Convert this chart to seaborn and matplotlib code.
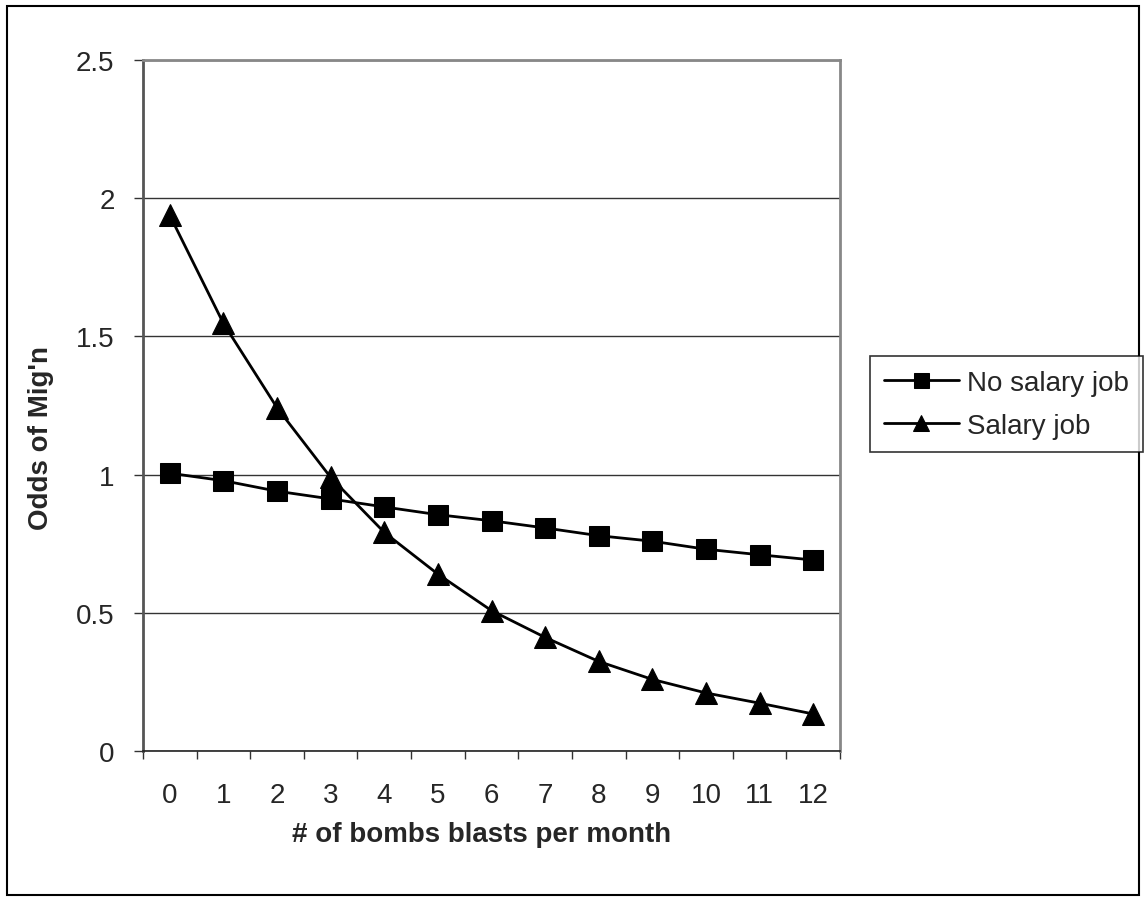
import numpy as np
import pandas as pd
import matplotlib
matplotlib.use("Agg")
import matplotlib.pyplot as plt
import seaborn as sns
from matplotlib.ticker import FuncFormatter, FixedLocator
from matplotlib.patches import Rectangle

# data
blasts = [0, 1, 2, 3, 4, 5, 6, 7, 8, 9, 10, 11, 12]
no_salary = [1.005, 0.978, 0.940, 0.912, 0.883, 0.855, 0.833, 0.807, 0.779, 0.759, 0.730, 0.710, 0.691]
salary = [1.938, 1.547, 1.242, 0.990, 0.791, 0.640, 0.508, 0.411, 0.324, 0.259, 0.210, 0.173, 0.134]
yticks = [0, 0.5, 1, 1.5, 2, 2.5]

sns.set_style("white")
plt.rcParams['font.family'] = ['Liberation Sans', 'DejaVu Sans']

df = pd.DataFrame({'blasts': blasts, 'No salary job': no_salary, 'Salary job': salary})

fig = plt.figure(figsize=(11.46, 9.03), dpi=100)
ax = fig.add_axes([143/1146, 1 - 752/903, (840 - 143)/1146, (752 - 61)/903])

sns.lineplot(data=df, x='blasts', y='No salary job', ax=ax, color='black', lw=2,
             marker='s', markersize=14.4, markeredgecolor='black', label='No salary job')
sns.lineplot(data=df, x='blasts', y='Salary job', ax=ax, color='black', lw=2,
             marker='^', markersize=16, markeredgecolor='black', label='Salary job')

ax.set_xlim(-0.5, 12.5)
ax.set_ylim(0, 2.5)
ax.set_yticks(yticks)
ax.yaxis.set_major_formatter(FuncFormatter(lambda v, p: '%g' % v))
ax.set_xticks(blasts)
ax.set_xticklabels([str(b) for b in blasts])
ax.xaxis.set_minor_locator(FixedLocator(np.arange(-0.5, 13, 1)))

ax.tick_params(axis='x', which='major', length=0, pad=22, labelsize=20)
ax.tick_params(axis='x', which='minor', length=6, width=1, color='#333333', direction='out', bottom=True)
ax.tick_params(axis='y', which='major', length=6.5, width=1, color='#333333', direction='out',
               left=True, pad=14, labelsize=20)

ax.yaxis.grid(True, color='#333333', lw=1)
ax.xaxis.grid(False)
ax.set_axisbelow(True)

for side in ['top', 'right']:
    ax.spines[side].set_color('#888888')
    ax.spines[side].set_linewidth(2)
ax.spines['left'].set_color('#555555')
ax.spines['left'].set_linewidth(2)
ax.spines['bottom'].set_color('#222222')
ax.spines['bottom'].set_linewidth(1.2)

ax.set_xlabel("# of bombs blasts per month", fontsize=20, fontweight='bold')
ax.set_ylabel("Odds of Mig'n", fontsize=20, fontweight='bold')
ax.xaxis.set_label_coords((482 - 143)/697, -(822 - 752)/691)
ax.yaxis.set_label_coords(-(143 - 54)/697, (752 - 438)/691)

handles, labels = ax.get_legend_handles_labels()
ax.get_legend().remove()
leg = fig.legend(handles, labels, loc='upper left', bbox_to_anchor=(870/1146, 1 - 357/903),
                 borderaxespad=0, fontsize=20, frameon=True, fancybox=False, shadow=False,
                 handlelength=2.7, handletextpad=0.3, labelspacing=0.6, markerscale=0.75,
                 borderpad=0.5)
leg.get_frame().set_edgecolor('black')
leg.get_frame().set_linewidth(1.2)

# outer chart border
fig.patches.append(Rectangle((7/1146, 7/903), (1139 - 7)/1146, (896 - 7)/903,
                             transform=fig.transFigure, fill=False, edgecolor='black', lw=1.5))

fig.savefig("out.png", dpi=100)
